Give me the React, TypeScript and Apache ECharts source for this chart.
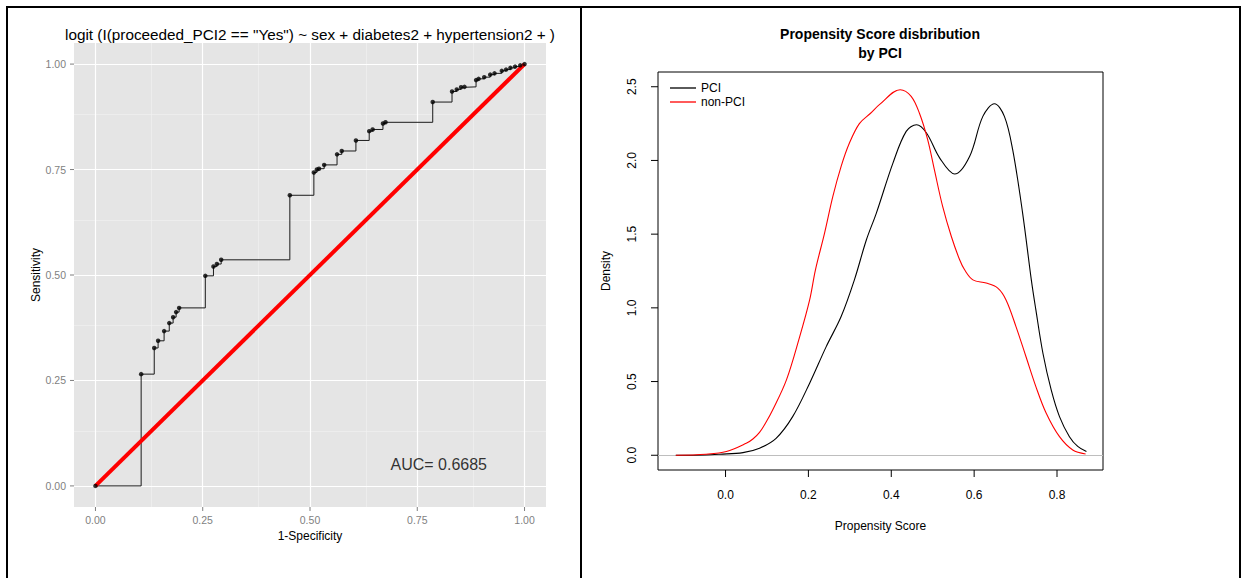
import React, { useEffect, useRef } from "react";
import * as echarts from "echarts";

// ---------- Left panel: ROC curve ----------
const rocFpr = [
  0, 0.1065, 0.137, 0.146, 0.16, 0.172, 0.181, 0.188, 0.195, 0.256, 0.275, 0.283, 0.293,
  0.453, 0.509, 0.516, 0.521, 0.533, 0.563, 0.574, 0.607, 0.638, 0.646, 0.67, 0.676,
  0.786, 0.831, 0.842, 0.852, 0.86, 0.887, 0.893, 0.906, 0.92, 0.93, 0.947, 0.957,
  0.967, 0.978, 0.99, 1.0,
];
const rocTpr = [
  0, 0.265, 0.327, 0.344, 0.367, 0.386, 0.4, 0.412, 0.422, 0.498, 0.52, 0.526, 0.536,
  0.689, 0.743, 0.75, 0.752, 0.761, 0.786, 0.794, 0.819, 0.841, 0.845, 0.859, 0.862,
  0.91, 0.935, 0.94, 0.945, 0.946, 0.962, 0.965, 0.969, 0.975, 0.978, 0.984, 0.987,
  0.991, 0.994, 0.997, 1.0,
];
const diagX = [0, 1];
const diagY = [0, 1];
const rocTicks = [0, 0.25, 0.5, 0.75, 1];
const rocTickLabels = ["0.00", "0.25", "0.50", "0.75", "1.00"];
const rocMinor = [0.125, 0.375, 0.625, 0.875];
const rocTitle = 'logit (I(proceeded_PCI2 == "Yes") ~ sex + diabetes2 + hypertension2 + )';
const aucLabel = "AUC= 0.6685";
const aucAt = [0.8, 0.05];

// ---------- Right panel: propensity score densities ----------
const pciX = [
  -0.12, -0.05, -0.014, 0.042, 0.082, 0.122, 0.162, 0.203, 0.243, 0.279, 0.311, 0.34,
  0.364, 0.404, 0.436, 0.461, 0.485, 0.517, 0.553, 0.589, 0.621, 0.649, 0.673, 0.693,
  0.717, 0.738, 0.749, 0.766, 0.786, 0.806, 0.83, 0.85, 0.871,
];
const pciY = [
  0, 0.002, 0.007, 0.018, 0.048, 0.115, 0.262, 0.489, 0.737, 0.941, 1.19, 1.462,
  1.643, 1.982, 2.197, 2.242, 2.186, 2.016, 1.908, 2.027, 2.299, 2.385, 2.299, 2.073,
  1.643, 1.19, 0.986, 0.692, 0.443, 0.262, 0.126, 0.06, 0.025,
];
const nonX = [
  -0.12, -0.047, 0.002, 0.05, 0.066, 0.082, 0.098, 0.114, 0.147, 0.179, 0.203, 0.217,
  0.239, 0.259, 0.279, 0.299, 0.323, 0.35, 0.372, 0.4215, 0.448, 0.468, 0.488, 0.504,
  0.524, 0.545, 0.565, 0.577, 0.597, 0.629, 0.657, 0.677, 0.701, 0.725, 0.749, 0.774,
  0.806, 0.838, 0.869,
];
const nonY = [
  0, 0.007, 0.025, 0.081, 0.11, 0.155, 0.225, 0.308, 0.511, 0.805, 1.054, 1.258,
  1.507, 1.756, 1.96, 2.118, 2.25, 2.32, 2.38, 2.48, 2.435, 2.32, 2.14, 1.937,
  1.688, 1.484, 1.326, 1.258, 1.19, 1.168, 1.134, 1.054, 0.873, 0.67, 0.466, 0.285,
  0.126, 0.036, 0.009,
];
const psXTicks = [0, 0.2, 0.4, 0.6, 0.8];
const psXTickLabels = ["0.0", "0.2", "0.4", "0.6", "0.8"];
const psYTicks = [0, 0.5, 1, 1.5, 2, 2.5];
const psYTickLabels = ["0.0", "0.5", "1.0", "1.5", "2.0", "2.5"];
const psTitle = "Propensity Score disbribution\nby PCI";
const seriesNames = ["PCI", "non-PCI"];

const FONT = "'Liberation Sans', Arial, Helvetica, sans-serif";
const LINE_ICON = "path://M0,0 L26,0 L26,1.3 L0,1.3 Z";

const ROC_MIN = -0.05;
const PS_XMIN = -0.163;
const PS_YMIN = -0.1;

const zip = (a: number[], b: number[]) => a.map((v, i) => [v, b[i]]);
const labelFrom = (ticks: number[], labels: string[]) => (v: number) => {
  const i = ticks.findIndex((t) => Math.abs(t - v) < 1e-9);
  return i >= 0 ? labels[i] : "";
};

const gridLineSeries = (xIdx: number, marks: any[], color: string, width: number) => ({
  type: "line",
  xAxisIndex: xIdx,
  yAxisIndex: xIdx,
  data: [[0, 0]],
  symbol: "none",
  lineStyle: { width: 0 },
  silent: true,
  z: 1,
  markLine: {
    z: 1,
    silent: true,
    symbol: ["none", "none"],
    label: { show: false },
    lineStyle: { color, width, type: "solid" },
    data: marks,
  },
});

const ggAxis = (name: string, gap: number, labelMargin: number) => ({
  type: "value",
  min: ROC_MIN,
  max: 1.05,
  axisLine: { show: false, onZero: false },
  axisTick: { show: false },
  axisLabel: {
    customValues: rocTicks,
    formatter: labelFrom(rocTicks, rocTickLabels),
    color: "#7f7f7f",
    fontSize: 10.5,
    margin: labelMargin,
    fontFamily: FONT,
  },
  splitLine: { show: false },
  name,
  nameLocation: "middle",
  nameGap: gap,
  nameTextStyle: { color: "#000", fontSize: 12, fontFamily: FONT },
});

const frameLine = (x1: number, y1: number, x2: number, y2: number, stroke: string, lineWidth: number) => ({
  type: "line",
  silent: true,
  z: 10,
  shape: { x1, y1, x2, y2 },
  style: { stroke, lineWidth },
});

export default function App() {
  const ref = useRef<HTMLDivElement>(null);

  useEffect(() => {
    if (!ref.current) return;
    const chart = echarts.init(ref.current, undefined, { renderer: "svg" });
    const rocPts = zip(rocFpr, rocTpr);

    const option: any = {
      animation: false,
      backgroundColor: "#ffffff",
      textStyle: { fontFamily: FONT },
      title: [
        {
          text: rocTitle,
          left: 310,
          top: 27,
          padding: 0,
          textAlign: "center",
          textStyle: { fontFamily: FONT, fontSize: 15.3, fontWeight: "normal", color: "#000", lineHeight: 15 },
        },
        {
          text: psTitle,
          left: 880,
          top: 24,
          padding: 0,
          textAlign: "center",
          textStyle: { fontFamily: FONT, fontSize: 14, fontWeight: "bold", color: "#000", lineHeight: 19 },
        },
      ],
      legend: {
        data: [
          { name: seriesNames[0], icon: LINE_ICON },
          { name: seriesNames[1], icon: LINE_ICON },
        ],
        orient: "vertical",
        left: 670,
        top: 82,
        padding: 0,
        itemWidth: 26,
        itemHeight: 14,
        itemGap: 2,
        textStyle: { fontFamily: FONT, fontSize: 12, color: "#000" },
      },
      grid: [
        { left: 74, top: 43, width: 472, height: 464, show: true, backgroundColor: "#E5E5E5", borderWidth: 0 },
        { left: 658, top: 72, width: 445, height: 398, show: true, borderColor: "#000", borderWidth: 1 },
      ],
      xAxis: [
        { gridIndex: 0, ...ggAxis("1-Specificity", 21, 7) },
        {
          gridIndex: 1,
          type: "value",
          min: PS_XMIN,
          max: 0.911,
          axisLine: { show: false, onZero: false },
          axisTick: { show: false },
          axisLabel: {
            customValues: psXTicks,
            formatter: labelFrom(psXTicks, psXTickLabels),
            color: "#000",
            fontSize: 12,
            margin: 19,
            fontFamily: FONT,
          },
          splitLine: { show: false },
          name: "Propensity Score",
          nameLocation: "middle",
          nameGap: 50,
          nameTextStyle: { color: "#000", fontSize: 12, fontFamily: FONT },
        },
      ],
      yAxis: [
        { gridIndex: 0, ...ggAxis("Sensitivity", 25, 8) },
        {
          gridIndex: 1,
          type: "value",
          min: PS_YMIN,
          max: 2.6,
          axisLine: { show: false, onZero: false },
          axisTick: { show: false },
          axisLabel: {
            customValues: psYTicks,
            formatter: labelFrom(psYTicks, psYTickLabels),
            color: "#000",
            fontSize: 12,
            margin: 20,
            rotate: 90,
            fontFamily: FONT,
          },
          splitLine: { show: false },
          name: "Density",
          nameLocation: "middle",
          nameGap: 46,
          nameTextStyle: { color: "#000", fontSize: 12, fontFamily: FONT },
        },
      ],
      series: [
        gridLineSeries(
          0,
          [...rocMinor.map((v) => ({ xAxis: v })), ...rocMinor.map((v) => ({ yAxis: v }))],
          "#F2F2F2",
          0.6
        ),
        gridLineSeries(
          0,
          [...rocTicks.map((v) => ({ xAxis: v })), ...rocTicks.map((v) => ({ yAxis: v }))],
          "#FFFFFF",
          1.2
        ),
        {
          name: "ROC",
          type: "line",
          xAxisIndex: 0,
          yAxisIndex: 0,
          data: rocPts,
          step: "end",
          symbol: "none",
          lineStyle: { color: "#1a1a1a", width: 1 },
          z: 3,
        },
        {
          name: "diag",
          type: "line",
          xAxisIndex: 0,
          yAxisIndex: 0,
          data: zip(diagX, diagY),
          symbol: "none",
          lineStyle: { color: "#FF0000", width: 4 },
          z: 4,
        },
        {
          name: "ROC points",
          type: "scatter",
          xAxisIndex: 0,
          yAxisIndex: 0,
          data: rocPts,
          symbolSize: 4.5,
          itemStyle: { color: "#000" },
          z: 5,
        },
        {
          name: "AUC",
          type: "scatter",
          xAxisIndex: 0,
          yAxisIndex: 0,
          data: [aucAt],
          symbolSize: 0,
          silent: true,
          label: {
            show: true,
            position: "inside",
            formatter: aucLabel,
            fontSize: 16,
            color: "#000",
            fontFamily: FONT,
          },
          z: 6,
        },
        gridLineSeries(1, [{ yAxis: 0 }], "#BEBEBE", 1.2),
        {
          name: seriesNames[0],
          type: "line",
          xAxisIndex: 1,
          yAxisIndex: 1,
          data: zip(pciX, pciY),
          symbol: "none",
          showSymbol: false,
          smooth: 0.35,
          color: "#000",
          lineStyle: { color: "#000", width: 1.1 },
          z: 3,
        },
        {
          name: seriesNames[1],
          type: "line",
          xAxisIndex: 1,
          yAxisIndex: 1,
          data: zip(nonX, nonY),
          symbol: "none",
          showSymbol: false,
          smooth: 0.35,
          color: "#FF0000",
          lineStyle: { color: "#FF0000", width: 1.1 },
          z: 4,
        },
      ],
    };

    chart.setOption(option);

    // Axis tick marks, positioned through the chart's own axis scales.
    const px = (axis: "x" | "y", idx: number, v: number) =>
      chart.convertToPixel(axis === "x" ? { xAxisIndex: idx } : { yAxisIndex: idx }, v) as number;

    const ticks: any[] = [];
    const rocBottom = px("y", 0, ROC_MIN);
    const rocLeft = px("x", 0, ROC_MIN);
    rocTicks.forEach((v) => {
      const x = px("x", 0, v);
      ticks.push(frameLine(x, rocBottom, x, rocBottom + 4, "#7f7f7f", 1));
      const y = px("y", 0, v);
      ticks.push(frameLine(rocLeft - 4, y, rocLeft, y, "#7f7f7f", 1));
    });
    const psBottom = px("y", 1, PS_YMIN);
    const psLeft = px("x", 1, PS_XMIN);
    psXTicks.forEach((v) => {
      const x = px("x", 1, v);
      ticks.push(frameLine(x, psBottom, x, psBottom + 7, "#000", 1));
    });
    psYTicks.forEach((v) => {
      const y = px("y", 1, v);
      ticks.push(frameLine(psLeft - 7, y, psLeft, y, "#000", 1));
    });

    chart.setOption({
      graphic: [
        frameLine(6, 7, 1241, 7, "#000", 2),
        frameLine(7, 6, 7, 578, "#000", 2),
        frameLine(581, 6, 581, 578, "#000", 2),
        frameLine(1240, 6, 1240, 578, "#000", 2),
        ...ticks,
      ],
    });

    return () => chart.dispose();
  }, []);

  return (
    <div
      ref={ref}
      style={{ position: "fixed", left: 0, top: 0, width: 1243, height: 578, background: "#fff" }}
    />
  );
}
